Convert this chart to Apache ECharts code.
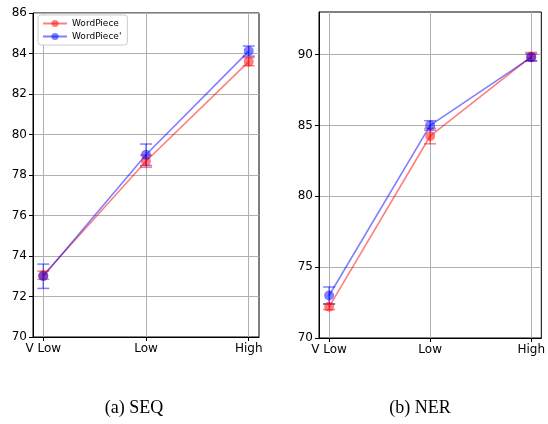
<!DOCTYPE html>
<html>
<head>
<meta charset="utf-8">
<script src="https://cdn.jsdelivr.net/npm/echarts@6/dist/echarts.min.js"></script>
<style>
html,body{margin:0;padding:0;background:#fff;}
#chart{width:548px;height:424px;}
</style>
</head>
<body>
<div id="chart"></div>
<script>
var categories = ['V Low', 'Low', 'High'];
var catPos = [0, 1, 2];

// (a) SEQ
var seqWordPiece = [73.05, 78.68, 83.6];
var seqWordPieceErr = [0.2, 0.3, 0.2];
var seqWordPiece2 = [73.0, 79.0, 84.12];
var seqWordPiece2Err = [0.6, 0.53, 0.25];

// (b) NER
var nerWordPiece = [72.2, 84.25, 89.85];
var nerWordPieceErr = [0.2, 0.55, 0.3];
var nerWordPiece2 = [73.0, 85.0, 89.8];
var nerWordPiece2Err = [0.6, 0.33, 0.25];

var seqTicks = [70, 72, 74, 76, 78, 80, 82, 84, 86];
var nerTicks = [70, 75, 80, 85, 90];

var RED = 'rgba(255,0,0,0.5)';
var BLUE = 'rgba(0,0,255,0.5)';
var FONT = 'DejaVu Sans';

function pts(vals){
    var out = [];
    for(var i=0;i<vals.length;i++){
        out.push([catPos[i], vals[i]]);
    }
    return out;
}
function errPts(vals, errs){
    var out = [];
    for(var i=0;i<vals.length;i++){
        out.push([catPos[i], vals[i]-errs[i], vals[i]+errs[i]]);
    }
    return out;
}

function errRender(color){
    return function(params, api){
        var lo = api.coord([api.value(0), api.value(1)]);
        var hi = api.coord([api.value(0), api.value(2)]);
        var cap = 6;
        var st = {stroke: color, lineWidth: 1.5};
        return {
            type: 'group',
            children: [
                {type:'line', shape:{x1:lo[0], y1:lo[1], x2:hi[0], y2:hi[1]}, style:st},
                {type:'line', shape:{x1:lo[0]-cap, y1:lo[1], x2:lo[0]+cap, y2:lo[1]}, style:st},
                {type:'line', shape:{x1:hi[0]-cap, y1:hi[1], x2:hi[0]+cap, y2:hi[1]}, style:st}
            ]
        };
    };
}

function xAxis(idx){
    return {
        type: 'value', gridIndex: idx, min: -0.1, max: 2.1,
        axisLine: {show: true, onZero: false, lineStyle: {color: '#000', width: 1}},
        axisTick: {show: true, length: 4, customValues: catPos, lineStyle: {color: '#000'}},
        axisLabel: {color: '#000', fontSize: 12, fontFamily: FONT, margin: 6, customValues: catPos,
            formatter: function(v){ return categories[Math.round(v)]; }},
        splitLine: {show: true, lineStyle: {color: '#b0b0b0', width: 1}}
    };
}
function yAxis(idx, min, max, interval, ticks){
    return {
        type: 'value', gridIndex: idx, min: min, max: max, interval: interval,
        axisLine: {show: true, onZero: false, lineStyle: {color: '#000', width: 1}},
        axisTick: {show: true, length: 4, customValues: ticks, lineStyle: {color: '#000'}},
        axisLabel: {color: '#000', fontSize: 12, fontFamily: FONT, margin: 6, customValues: ticks},
        splitLine: {show: true, lineStyle: {color: '#b0b0b0', width: 1}}
    };
}

function lineSeries(name, idx, vals, color){
    return {
        name: name, type: 'line', xAxisIndex: idx, yAxisIndex: idx,
        data: pts(vals), symbol: 'circle', symbolSize: 10, showSymbol: true,
        lineStyle: {color: color, width: 1.6},
        itemStyle: {color: color},
        emphasis: {disabled: true}, animation: false
    };
}
function errSeries(idx, vals, errs, color){
    return {
        type: 'custom', xAxisIndex: idx, yAxisIndex: idx,
        data: errPts(vals, errs), renderItem: errRender(color),
        encode: {x: 0, y: [1, 2]}, animation: false, silent: true
    };
}

var chart = echarts.init(document.getElementById('chart'));
var option = {
    backgroundColor: '#fff',
    animation: false,
    grid: [
        {left: 33, right: 289, top: 13, bottom: 87, show: true, borderColor: '#000', borderWidth: 1},
        {left: 319, right: 5, top: 12, bottom: 86, show: true, borderColor: '#000', borderWidth: 1}
    ],
    xAxis: [xAxis(0), xAxis(1)],
    yAxis: [yAxis(0, 70, 86, 2, seqTicks), yAxis(1, 70, 93, 5, nerTicks)],
    legend: {
        left: 38, top: 15, orient: 'vertical',
        data: ['WordPiece', "WordPiece'"],
        backgroundColor: '#fff', borderColor: '#ccc', borderWidth: 1, borderRadius: 3,
        padding: [4, 6, 4, 4], itemGap: 4, itemWidth: 24, itemHeight: 9,
        textStyle: {fontSize: 9, fontFamily: FONT, color: '#000'}
    },
    series: [
        errSeries(0, seqWordPiece, seqWordPieceErr, RED),
        lineSeries('WordPiece', 0, seqWordPiece, RED),
        errSeries(0, seqWordPiece2, seqWordPiece2Err, BLUE),
        lineSeries("WordPiece'", 0, seqWordPiece2, BLUE),
        errSeries(1, nerWordPiece, nerWordPieceErr, RED),
        lineSeries('WordPiece', 1, nerWordPiece, RED),
        errSeries(1, nerWordPiece2, nerWordPiece2Err, BLUE),
        lineSeries("WordPiece'", 1, nerWordPiece2, BLUE)
    ],
    graphic: [
        {type: 'text', x: 134, y: 408, style: {text: '(a) SEQ', font: '18px "Liberation Serif"', fill: '#000', textAlign: 'center', textVerticalAlign: 'middle'}},
        {type: 'text', x: 420, y: 408, style: {text: '(b) NER', font: '18px "Liberation Serif"', fill: '#000', textAlign: 'center', textVerticalAlign: 'middle'}}
    ]
};
chart.setOption(option);
</script>
</body>
</html>
